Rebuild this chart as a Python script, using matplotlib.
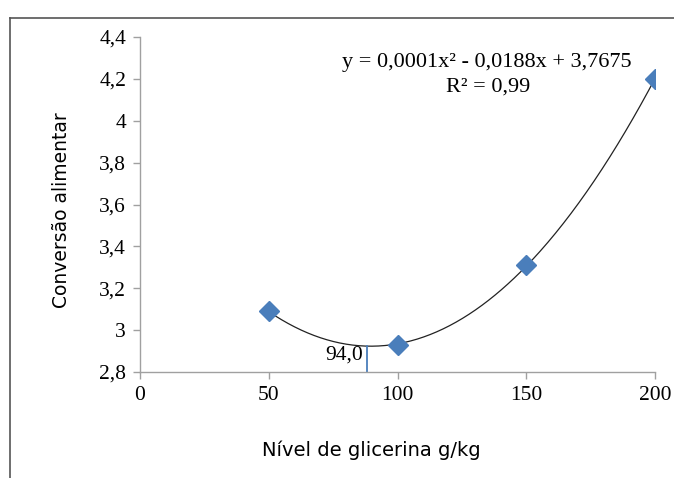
import numpy as np
import matplotlib
matplotlib.use("Agg")
import matplotlib.pyplot as plt
from matplotlib.ticker import FuncFormatter, MultipleLocator

# Data
glicerina = [50, 100, 150, 200]
conversao = [3.09, 2.93, 3.31, 4.20]
vline_x = 88
vline_label = "94,0"
equation = "y = 0,0001x² - 0,0188x + 3,7675"
r2_text = "R² = 0,99"
xlabel = "Nível de glicerina g/kg"
ylabel = "Conversão alimentar"

fig = plt.figure(figsize=(6.74, 4.78), dpi=100)
ax = fig.add_axes([140/674, 1-372/478, 515/674, 335/478])

# outer frame (left + top)
fig.add_artist(plt.Line2D([10/674, 10/674], [0, 1-18/478], transform=fig.transFigure, color="#555555", lw=1.2))
fig.add_artist(plt.Line2D([10/674, 1], [1-18/478, 1-18/478], transform=fig.transFigure, color="#555555", lw=1.2))

coef = np.polyfit(glicerina, conversao, 2)
xs = np.linspace(min(glicerina), max(glicerina), 300)
ax.plot(xs, np.polyval(coef, xs), color="#222222", lw=0.9, zorder=2)
ax.plot(glicerina, conversao, linestyle="none", marker="D", ms=10.5, color="#4a7ebb", mec="#4a7ebb", zorder=3)

yv = np.polyval(coef, vline_x)
ax.plot([vline_x, vline_x], [2.8, yv], color="#4a7ebb", lw=1.3, zorder=2)
ax.text(vline_x - 1.5, 2.835, vline_label, ha="right", va="bottom", fontsize=15.5,
        family="Liberation Serif")

ax.text(0.674, 0.925, equation, transform=ax.transAxes, ha="center", va="center",
        fontsize=16, family="Liberation Serif")
ax.text(0.675, 0.85, r2_text, transform=ax.transAxes, ha="center", va="center",
        fontsize=16, family="Liberation Serif")

ax.set_xlim(0, 200)
ax.set_ylim(2.8, 4.4)
ax.xaxis.set_major_locator(MultipleLocator(50))
ax.yaxis.set_major_locator(MultipleLocator(0.2))
fmt = FuncFormatter(lambda v, p: ("%g" % round(v, 2)).replace(".", ","))
ax.yaxis.set_major_formatter(fmt)
ax.xaxis.set_major_formatter(FuncFormatter(lambda v, p: "%d" % v))

for s in ["top", "right"]:
    ax.spines[s].set_visible(False)
for s in ["left", "bottom"]:
    ax.spines[s].set_color("#a0a0a0")
    ax.spines[s].set_linewidth(1.0)
ax.tick_params(axis="both", color="#a0a0a0", length=5, width=1.0, direction="out",
               labelsize=15.5, pad=5)
for lab in ax.get_xticklabels() + ax.get_yticklabels():
    lab.set_family("Liberation Serif")

ax.set_xlabel(xlabel, fontsize=14, family="DejaVu Sans", labelpad=26)
ax.xaxis.label.set_x(0.449)
ax.set_ylabel(ylabel, fontsize=13.5, family="DejaVu Sans", labelpad=20)
ax.yaxis.label.set_y(0.484)

fig.savefig("out.png", dpi=100)
